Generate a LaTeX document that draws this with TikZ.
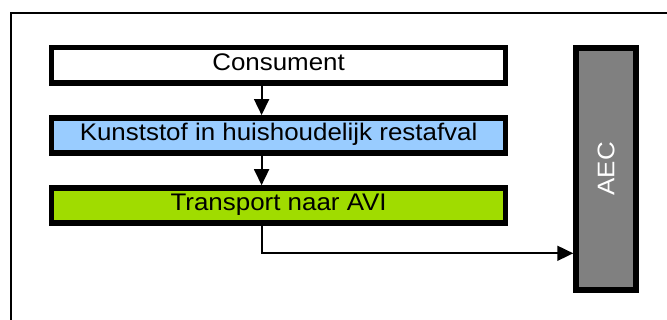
\documentclass[tikz,border=0pt]{standalone}
\usepackage{fontspec}
\setmainfont{Liberation Sans}
\usetikzlibrary{positioning,arrows.meta}
\definecolor{kunstblue}{HTML}{99CCFF}
\definecolor{avigreen}{HTML}{A0DC00}
\definecolor{aecgrey}{HTML}{808080}
\newcommand{\widetext}[1]{\scalebox{1.08}[1]{#1}}
\tikzset{
  flowbox/.style={rectangle, draw=black, line width=5.5pt, minimum width=454pt, minimum height=35.3pt, inner sep=0pt, text height=22.5pt, text depth=12.8pt, font=\fontsize{24pt}{28pt}\selectfont},
  aecbar/.style={rectangle, draw=black, fill=aecgrey, line width=6pt, minimum width=59.5pt, minimum height=241.7pt, inner sep=0pt, text=white, font=\fontsize{24pt}{28pt}\selectfont},
  flowarrow/.style={draw=black, line width=1.8pt, -{Triangle[length=16pt,width=15pt]}},
  frameline/.style={draw=black, line width=2pt}
}
\begin{document}
\begin{tikzpicture}[x=1pt,y=-1pt]
  \useasboundingbox (0,0) rectangle (667,320);
  \clip (0,0) rectangle (667,320);
  \fill[white] (0,0) rectangle (667,320);
  \draw[frameline] (11,13) rectangle (690,340);
  \node[flowbox, fill=white] (cons) at (278.6,65.4) {\widetext{Consument}};
  \node[flowbox, fill=kunstblue, below=29.3pt of cons] (kunst) {\widetext{Kunststof in huishoudelijk restafval}};
  \node[flowbox, fill=avigreen, below=29.3pt of kunst] (trans) {\widetext{Transport naar AVI}};
  \node[aecbar] (aec) at (606,168.9) {\rotatebox{90}{\widetext{AEC}}};
  \coordinate (bend) at (261.6,253.3);
  \draw[flowarrow] (cons.south -| bend) -- (kunst.north -| bend);
  \draw[flowarrow] (kunst.south -| bend) -- (trans.north -| bend);
  \draw[flowarrow] (trans.south -| bend) |- (aec.west |- bend);
\end{tikzpicture}
\end{document}
